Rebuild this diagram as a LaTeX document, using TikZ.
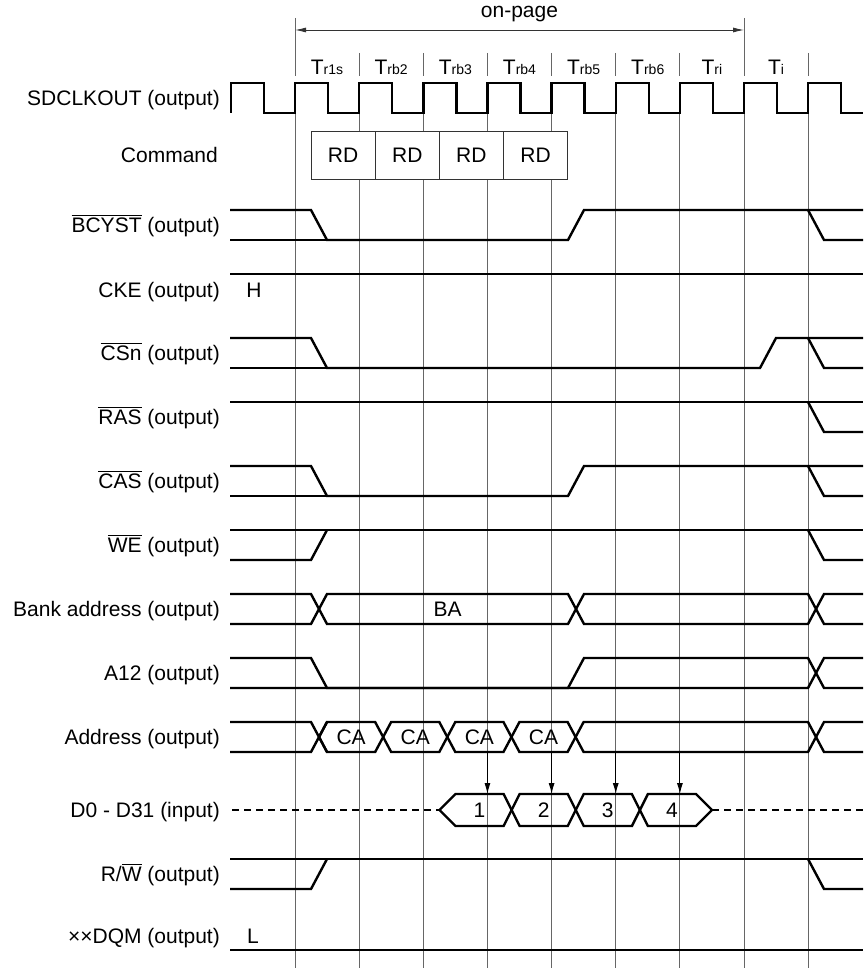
\documentclass[tikz,border=0pt]{standalone}
\usepackage{fontspec}
\setmainfont{Liberation Sans}
\usetikzlibrary{arrows.meta}

\tikzset{
  sig/.style={line width=2.4pt},
  gridline/.style={black!60, line width=1pt},
  signame/.style={anchor=base east, inner sep=0pt},
  busval/.style={inner sep=0pt},
  rdbox/.style={draw=black!80, line width=0.8pt, fill=white, minimum width=64.15pt, minimum height=47.6pt, inner sep=0pt},
}
\newcommand{\barsig}[1]{\setbox0\hbox{#1}\rlap{\rule[17pt]{\wd0}{0.9pt}}\box0\relax}

\begin{document}
\begin{tikzpicture}[x=1pt, y=-1pt, font=\fontsize{21}{25}\selectfont]
\useasboundingbox (0,0) rectangle (863,968);

% time grid
\foreach \k in {0,...,8}
  \draw[gridline] ({295+64.15*\k},83) -- ({295+64.15*\k},968);
\foreach \k in {1,2,3,4,5,6,8}
  \draw[gridline] ({295+64.15*\k},53) -- ({295+64.15*\k},76);
\draw[gridline] (295,18) -- (295,76);
\draw[gridline] (744.05,18) -- (744.05,76);

% on-page span
\coordinate (pgl) at (295,30);
\coordinate (pgr) at (744.05,30);
\draw[black!80, line width=0.9pt, {Latex[length=11pt,width=5pt]}-{Latex[length=11pt,width=5pt]}] (pgl) -- (pgr);
\node[inner sep=0pt] (onpage) at (519.5,14) {on-page};

% cycle names
\foreach \k/\s in {0/r1s,1/rb2,2/rb3,3/rb4,4/rb5,5/rb6,6/ri,7/i}
  \node[anchor=base, inner sep=0pt] (t\k) at ({327+64.15*\k},75) {T{\fontsize{14}{14}\selectfont\s}};

% signal names
\node[signame] (lclk) at (220,105.5) {SDCLKOUT (output)};
\node[signame] (lcmd) at (218,163) {Command};
\node[signame] (lbcy) at (220,232.5) {\barsig{BCYST} (output)};
\node[signame] (lcke) at (220,297) {CKE (output)};
\node[signame] (lcs) at (220,360.5) {\barsig{CSn} (output)};
\node[signame] (lras) at (220,424.5) {\barsig{RAS} (output)};
\node[signame] (lcas) at (220,488.5) {\barsig{CAS} (output)};
\node[signame] (lwe) at (220,552.5) {\barsig{WE} (output)};
\node[signame] (lba) at (220,616.5) {Bank address (output)};
\node[signame] (la12) at (220,680.5) {A12 (output)};
\node[signame] (ladr) at (220,744.5) {Address (output)};
\node[signame] (ld) at (220,817.5) {D0 - D31 (input)};
\node[signame] (lrw) at (220,881.5) {R/\barsig{W} (output)};
\node[signame] (ldqm) at (220,943) {××DQM (output)};

% SDCLKOUT
\draw[sig] (230.85,113) foreach \k in {-1,...,8} { -- ({295+64.15*\k},113) -- ({295+64.15*\k},83) -- ({328+64.15*\k},83) -- ({328+64.15*\k},113) } -- (863,113);

% Command
\foreach \k in {0,...,3}
  \node[rdbox] (rd\k) at ({343.1+64.15*\k},155.5) {RD};

% BCYST
\draw[sig] (230,210) -- (311,210) -- (327,240) -- (568,240) -- (584,210) -- (863,210);
\draw[sig] (230,240) -- (327,240);
\draw[sig] (808,210) -- (824,240) -- (863,240);

% CKE
\draw[sig] (230,274) -- (863,274);
\node[anchor=base, inner sep=0pt] (hlev) at (254,297) {H};

% CSn
\draw[sig] (230,338) -- (311,338) -- (327,368) -- (760,368) -- (776,338) -- (863,338);
\draw[sig] (230,368) -- (327,368);
\draw[sig] (808,338) -- (824,368) -- (863,368);

% RAS
\draw[sig] (230,402) -- (863,402);
\draw[sig] (808,402) -- (824,432) -- (863,432);

% CAS
\draw[sig] (230,466) -- (311,466) -- (327,496) -- (568,496) -- (584,466) -- (863,466);
\draw[sig] (230,496) -- (327,496);
\draw[sig] (808,466) -- (824,496) -- (863,496);

% WE
\draw[sig] (230,530) -- (863,530);
\draw[sig] (230,560) -- (311,560) -- (327,530);
\draw[sig] (808,530) -- (824,560) -- (863,560);

% Bank address
\draw[sig] (230,594) -- (311,594) -- (327,624) -- (568,624) -- (584,594) -- (808,594) -- (824,624) -- (863,624);
\draw[sig] (230,624) -- (311,624) -- (327,594) -- (568,594) -- (584,624) -- (808,624) -- (824,594) -- (863,594);
\node[busval] (ba) at (447.5,609) {BA};

% A12
\draw[sig] (230,658) -- (311,658) -- (327,688) -- (568,688) -- (584,658) -- (808,658) -- (824,688) -- (863,688);
\draw[sig] (230,688) -- (808,688) -- (824,658) -- (863,658);

% Address
\draw[sig] (230,722) -- (311,722) -- (327,752);
\draw[sig] (230,752) -- (311,752) -- (327,722);
\foreach \k in {0,...,3} {
  \draw[sig] ({319+64.15*\k},737) -- ({327+64.15*\k},722) -- ({375.15+64.15*\k},722) -- ({383.15+64.15*\k},737) -- ({375.15+64.15*\k},752) -- ({327+64.15*\k},752) -- cycle;
  \node[busval] (ca\k) at ({351.1+64.15*\k},737) {CA};
}
\draw[sig] (575.6,737) -- (583.6,722) -- (808,722) -- (824,752) -- (863,752);
\draw[sig] (575.6,737) -- (583.6,752) -- (808,752) -- (824,722) -- (863,722);

% D0 - D31
\draw[sig, dash pattern=on 7pt off 5pt] (232,810) -- (439.5,810);
\draw[sig] (439.5,810) -- (455.5,794) -- (503.6,794) -- (511.6,810) -- (503.6,826) -- (455.5,826) -- cycle;
\draw[sig] (511.6,810) -- (519.6,794) -- (567.75,794) -- (575.75,810) -- (567.75,826) -- (519.6,826) -- cycle;
\draw[sig] (575.75,810) -- (583.75,794) -- (631.9,794) -- (639.9,810) -- (631.9,826) -- (583.75,826) -- cycle;
\draw[sig] (639.9,810) -- (647.9,794) -- (696,794) -- (712,810) -- (696,826) -- (647.9,826) -- cycle;
\draw[sig, dash pattern=on 7pt off 5pt] (712,810) -- (863,810);
\foreach \n/\x in {1/479.5,2/543.7,3/607.8,4/672}
  \node[busval] (dv\n) at (\x,810) {\n};
\foreach \k [count=\n] in {3,...,6} {
  \coordinate (src\n) at ({295+64.15*\k},752);
  \coordinate (dst\n) at ({295+64.15*\k},794);
  \draw[line width=1pt, -{Latex[length=11pt,width=6pt]}] (src\n) -- (dst\n);
}

% R/W
\draw[sig] (230,859) -- (863,859);
\draw[sig] (230,889) -- (311,889) -- (327,859);
\draw[sig] (808,859) -- (824,889) -- (863,889);

% DQM
\draw[sig] (230,950) -- (863,950);
\node[anchor=base, inner sep=0pt] (llev) at (253,943) {L};
\end{tikzpicture}
\end{document}
